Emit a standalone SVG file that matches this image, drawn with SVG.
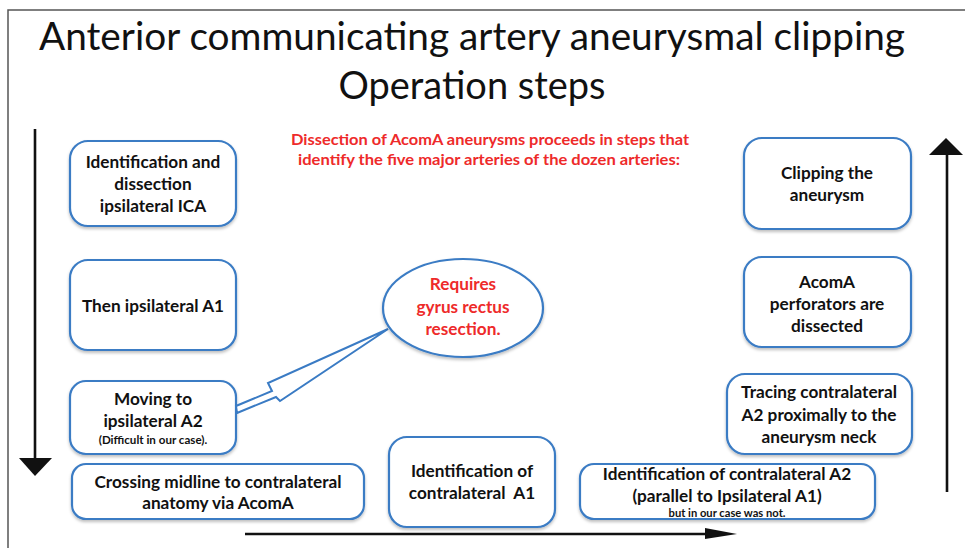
<svg xmlns="http://www.w3.org/2000/svg" width="965" height="548" viewBox="0 0 965 548">
<defs>
<style>
.box{fill:#fff;stroke:#3a7bc4;stroke-width:2.2;filter:url(#sh)}
.t{font-family:Lato,"Open Sans",sans-serif;font-weight:bold;font-size:17.2px;fill:#111;text-anchor:middle}
.s{font-size:11.6px}
.xs{font-size:11.2px}
.red{fill:#ee2a2a}
.ttl{font-family:Lato,"Open Sans",sans-serif;font-size:38px;fill:#111;text-anchor:middle}
.ln{stroke:#111;stroke-width:2.6;fill:none}
</style>
<filter id="sh" x="-10%" y="-10%" width="120%" height="130%">
<feDropShadow dx="0" dy="2" stdDeviation="1.5" flood-color="#000" flood-opacity="0.25"/>
</filter>
</defs>
<rect width="965" height="548" fill="#fff"/>
<path d="M8,548 V10 H965" fill="none" stroke="#555" stroke-width="1.5"/>
<g id="title">
<text class="ttl" x="472" y="50" textLength="866" lengthAdjust="spacingAndGlyphs">Anterior communicating artery aneurysmal clipping</text>
<text class="ttl" x="472" y="99" textLength="267" lengthAdjust="spacingAndGlyphs">Operation steps</text>
</g>
<g id="note">
<text class="t red" style="font-size:15px" x="490" y="145" textLength="398" lengthAdjust="spacingAndGlyphs">Dissection of AcomA aneurysms proceeds in steps that</text>
<text class="t red" style="font-size:15px" x="489" y="165" textLength="382" lengthAdjust="spacingAndGlyphs">identify the five major arteries of the dozen arteries:</text>
</g>
<g id="connectors">
<line class="ln" x1="35" y1="129" x2="35" y2="460"/>
<polygon points="19,458 52,458 35,476" fill="#111"/>
<line class="ln" x1="947" y1="492" x2="947" y2="152"/>
<polygon points="929,155 963,155 946,138" fill="#111"/>
<line class="ln" x1="245" y1="534" x2="710" y2="534"/>
<polygon points="705,528 737,534 705,539" fill="#111"/>
</g>
<g id="n1"><rect class="box" x="70" y="141" width="166" height="85" rx="18"/>
<text class="t" x="153" y="168">Identification and</text>
<text class="t" x="153" y="190">dissection</text>
<text class="t" x="153" y="212">ipsilateral ICA</text></g>
<g id="n2"><rect class="box" x="70" y="260" width="166" height="90" rx="18"/>
<text class="t" x="153" y="312">Then ipsilateral A1</text></g>
<g id="n3"><rect class="box" x="70" y="381" width="166" height="73" rx="16"/>
<text class="t" x="153" y="405">Moving to</text>
<text class="t" x="153" y="427">ipsilateral A2</text>
<text class="t s" x="153" y="444">(Difficult in our case).</text></g>
<g id="n4"><rect class="box" x="72" y="464" width="292" height="55" rx="14"/>
<text class="t" x="218" y="488">Crossing midline to contralateral</text>
<text class="t" x="218" y="509">anatomy via AcomA</text></g>
<g id="n5"><rect class="box" x="389" y="437" width="166" height="90" rx="18"/>
<text class="t" x="472" y="477">Identification of</text>
<text class="t" x="472" y="499" xml:space="preserve">contralateral  A1</text></g>
<g id="n6"><rect class="box" x="580" y="464" width="295" height="55" rx="14"/>
<text class="t" x="727" y="480">Identification of contralateral A2</text>
<text class="t" x="727" y="502">(parallel to Ipsilateral A1)</text>
<text class="t xs" x="727" y="517">but in our case was not.</text></g>
<g id="n7"><rect class="box" x="727" y="374" width="185" height="80" rx="18"/>
<text class="t" x="819" y="398">Tracing contralateral</text>
<text class="t" x="819" y="421">A2 proximally to the</text>
<text class="t" x="819" y="443">aneurysm neck</text></g>
<g id="n8"><rect class="box" x="744" y="257" width="167" height="90" rx="18"/>
<text class="t" x="827" y="288">AcomA</text>
<text class="t" x="827" y="310">perforators are</text>
<text class="t" x="827" y="332">dissected</text></g>
<g id="n9"><rect class="box" x="744" y="138" width="167" height="91" rx="18"/>
<text class="t" x="827" y="179">Clipping the</text>
<text class="t" x="827" y="201">aneurysm</text></g>
<g id="callout">
<polygon points="388,329 268,383 272,391 236,406 237,413 276,397 280,401" fill="#fff" stroke="#3a7bc4" stroke-width="2" stroke-linejoin="miter"/>
<ellipse class="box" cx="463" cy="308" rx="80" ry="49"/>
<text class="t red" x="463" y="290">Requires</text>
<text class="t red" x="463" y="313">gyrus rectus</text>
<text class="t red" x="463" y="335">resection.</text>
</g>
</svg>
